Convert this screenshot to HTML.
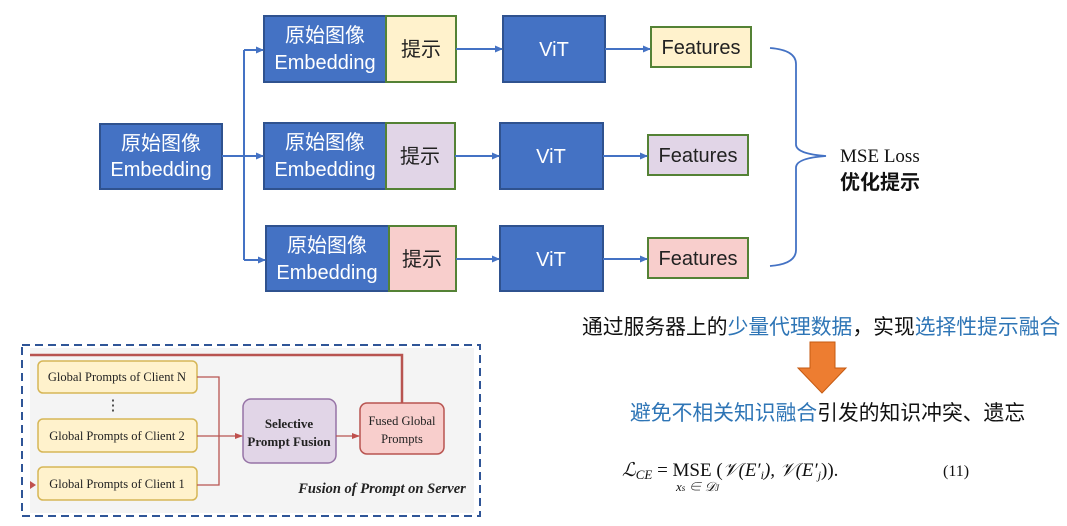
<!DOCTYPE html>
<html><head><meta charset="utf-8"><style>
body{margin:0;background:#fff;width:1067px;height:521px;overflow:hidden}
svg text{font-family:"Liberation Sans","Noto Sans CJK SC",sans-serif}
.s{font-family:"Liberation Serif","Noto Serif CJK SC",serif}
</style></head><body>
<svg width="1067" height="521" viewBox="0 0 1067 521" xmlns="http://www.w3.org/2000/svg">
<defs>
<marker id="b" markerWidth="8" markerHeight="8" refX="7" refY="4" orient="auto" markerUnits="userSpaceOnUse"><path d="M0,0.5 L8,4 L0,7.5z" fill="#4472C4"/></marker>
<marker id="r" markerWidth="8" markerHeight="8" refX="7" refY="4" orient="auto" markerUnits="userSpaceOnUse"><path d="M0,1 L8,4 L0,7z" fill="#C0504D"/></marker>
</defs>
<g stroke="#2F528F" stroke-width="2" fill="#4472C4">
<rect x="100" y="124" width="122" height="65"/>
<rect x="264" y="16" width="122" height="66"/>
<rect x="264" y="123" width="122" height="66"/>
<rect x="266" y="226" width="123" height="65"/>
<rect x="503" y="16" width="102" height="66"/>
<rect x="500" y="123" width="103" height="66"/>
<rect x="500" y="226" width="103" height="65"/>
</g>
<g stroke="#548235" stroke-width="2">
<rect x="386" y="16" width="70" height="66" fill="#FFF2CC"/>
<rect x="386" y="123" width="69" height="66" fill="#E1D5E7"/>
<rect x="389" y="226" width="67" height="65" fill="#F8CECC"/>
<rect x="651" y="27" width="100" height="40" fill="#FFF2CC"/>
<rect x="648" y="135" width="100" height="40" fill="#E1D5E7"/>
<rect x="648" y="238" width="100" height="40" fill="#F8CECC"/>
</g>
<g fill="#fff" font-size="20" text-anchor="middle">
<text x="161" y="150">原始图像</text><text x="161" y="176">Embedding</text>
<text x="325" y="42">原始图像</text><text x="325" y="69">Embedding</text>
<text x="325" y="149">原始图像</text><text x="325" y="176">Embedding</text>
<text x="327" y="252">原始图像</text><text x="327" y="279">Embedding</text>
<text x="554" y="56">ViT</text><text x="551" y="163">ViT</text><text x="551" y="266">ViT</text>
</g>
<g fill="#222" font-size="20" text-anchor="middle">
<text x="421" y="56">提示</text><text x="420" y="163">提示</text><text x="422" y="266">提示</text>
<text x="701" y="54">Features</text><text x="698" y="162">Features</text><text x="698" y="265">Features</text>
</g>
<g stroke="#4472C4" stroke-width="2" fill="none">
<path d="M222,156 H244 M244,50 V260"/>
<path d="M244,50 H263" marker-end="url(#b)"/>
<path d="M244,156 H263" marker-end="url(#b)"/>
<path d="M244,260 H265" marker-end="url(#b)"/>
<path d="M456,49 H502" marker-end="url(#b)"/>
<path d="M455,156 H499" marker-end="url(#b)"/>
<path d="M456,259 H499" marker-end="url(#b)"/>
<path d="M605,49 H650" marker-end="url(#b)"/>
<path d="M603,156 H647" marker-end="url(#b)"/>
<path d="M603,259 H647" marker-end="url(#b)"/>
<path d="M770,48 Q796,50 796,64 V145 Q797,154 826,156 Q797,158 796,167 V250 Q796,264 770,266" stroke-width="1.8"/>
</g>
<text x="840" y="162" font-size="19" fill="#111" class="s">MSE Loss</text>
<text x="840" y="189" font-size="20" fill="#111" font-weight="bold">优化提示</text>
<text x="582" y="334" font-size="20.8" fill="#111">通过服务器上的<tspan fill="#2E75B6">少量代理数据</tspan>，实现<tspan fill="#2E75B6">选择性提示融合</tspan></text>
<path d="M810,342 H835 V368 H846 L822,393 L798,368 H810Z" fill="#ED7D31" stroke="#C55A11" stroke-width="1"/>
<text x="630" y="420" font-size="20.8" fill="#111"><tspan fill="#2E75B6">避免不相关知识融合</tspan>引发的知识冲突、遗忘</text>
<text x="622" y="476" font-size="19" class="s" font-style="italic" fill="#111">ℒ<tspan font-size="13" dy="3">CE</tspan><tspan dy="-3" font-style="normal"> = MSE (</tspan>𝒱(E′<tspan font-size="12" dy="3">i</tspan><tspan dy="-3">), 𝒱(E′</tspan><tspan font-size="12" dy="3">j</tspan><tspan dy="-3" font-style="normal">)).</tspan></text>
<text x="676" y="491" font-size="13" class="s" font-style="italic" fill="#111">x<tspan font-size="9">s</tspan> ∈ 𝒟<tspan font-size="9">J</tspan></text>
<text x="943" y="476" font-size="16" class="s" fill="#111">(11)</text>
<rect x="30" y="348" width="444" height="165" fill="#F4F4F4"/>
<rect x="22" y="345" width="458" height="171" fill="none" stroke="#2F5597" stroke-width="2" stroke-dasharray="8,5"/>
<g stroke="#D6B656" stroke-width="1.5" fill="#FFF2CC">
<rect x="38" y="361" width="159" height="32" rx="5"/>
<rect x="38" y="419" width="159" height="33" rx="5"/>
<rect x="38" y="467" width="159" height="33" rx="5"/>
</g>
<rect x="243" y="399" width="93" height="64" rx="8" fill="#E1D5E7" stroke="#9673A6" stroke-width="1.5"/>
<rect x="360" y="403" width="84" height="51" rx="7" fill="#F8CECC" stroke="#B85450" stroke-width="1.5"/>
<g stroke="#B85450" fill="none" stroke-width="1.3">
<path d="M197,377 H219 V485 H197 M197,436 H242" marker-end="url(#r)"/>
<path d="M336,436 H359" marker-end="url(#r)"/>
<path d="M30,355 H402 V403" stroke-width="2.5"/>
</g>
<path d="M30,481 L36,485 L30,489z" fill="#C0504D"/>
<g class="s" font-size="12.5" fill="#222" text-anchor="middle">
<text x="117" y="381" class="s">Global Prompts of Client N</text>
<text x="117" y="440" class="s">Global Prompts of Client 2</text>
<text x="117" y="488" class="s">Global Prompts of Client 1</text>
<text x="113" y="410" class="s" font-size="15">⋮</text>
<text x="289" y="428" class="s" font-weight="bold" font-size="13">Selective</text>
<text x="289" y="446" class="s" font-weight="bold" font-size="13">Prompt Fusion</text>
<text x="402" y="425" class="s">Fused Global</text>
<text x="402" y="443" class="s">Prompts</text>
<text x="382" y="493" class="s" font-size="14.5" font-weight="bold" font-style="italic">Fusion of Prompt on Server</text>
</g>
</svg>
</body></html>
